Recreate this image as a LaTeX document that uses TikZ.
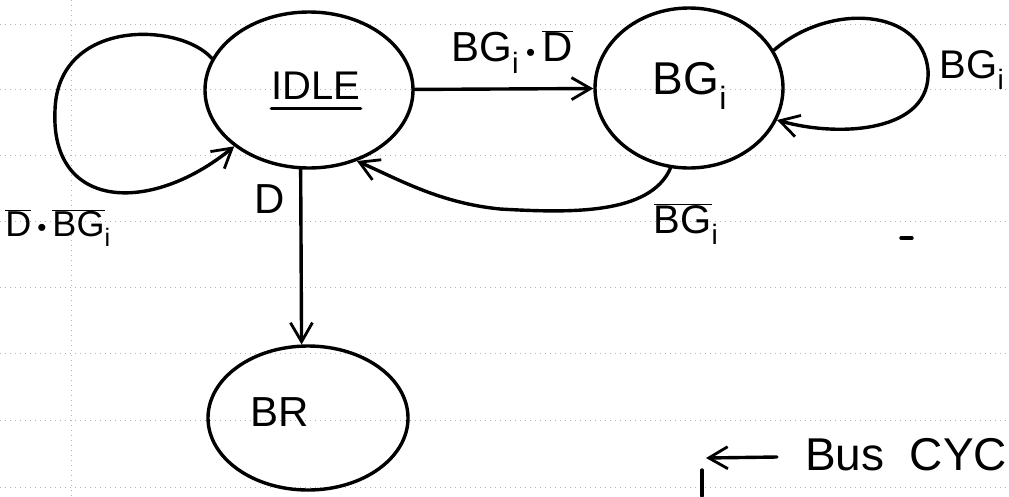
\documentclass[tikz,border=0pt]{standalone}
\usepackage{fontspec}
\setmainfont{Liberation Sans}
\usetikzlibrary{shapes.geometric,arrows.meta}

\tikzset{
  ruling/.style={gray!60, line width=0.6pt, dash pattern=on 1pt off 4pt},
  pen/.style={black, line width=3.4pt, line cap=round, line join=round},
  statebox/.style={ellipse, draw, pen, inner sep=0pt},
  tip/.style={-{Straight Barb[length=19pt,width=22pt,line width=2.8pt]}},
  hand/.style={inner sep=0pt, text=black},
}
\newcommand{\ovl}[1]{$\overline{\mbox{#1}}$}
\newcommand{\dotmark}{{\fontsize{26}{26}\selectfont\textbullet}}

\begin{document}
\begin{tikzpicture}[x=1pt,y=-1pt]
  \fill[white] (0,0) rectangle (1009,496);
  \useasboundingbox (0,0) rectangle (1009,496);

  % ruled paper
  \foreach \yy in {24,89,155,221,287,353,420,487}
    \draw[ruling] (0,\yy) -- (1009,\yy);
  \draw[ruling] (71,0) -- (71,496);

  % states
  \node[statebox, minimum width=208pt, minimum height=156pt] (idle) at (309,90) {};
  \node[statebox, minimum width=188pt, minimum height=160pt] (bg) at (689,88) {};
  \node[statebox, minimum width=200pt, minimum height=144pt] (br) at (308,418) {};

  \node[hand, font=\fontsize{40}{42}\selectfont] (idletext) at (316,86) {IDLE};
  \draw[pen] ([yshift=-9pt]idletext.base west) -- ([yshift=-9pt]idletext.base east);
  \node[hand, font=\fontsize{46}{48}\selectfont] (bgtext) at (690,86) {BG\textsubscript{i}};
  \node[hand, font=\fontsize{42}{44}\selectfont] (brtext) at (280,412) {BR};

  % self loop on IDLE
  \draw[pen, tip] (idle.162) .. controls (180,22) and (58,18) .. (55,110)
                  .. controls (50,210) and (150,215) .. (idle.217);
  \node[hand, font=\fontsize{36}{38}\selectfont] (lblidle) at (58,228)
    {\ovl{D}\,\dotmark\,\ovl{BG}\textsubscript{i}};

  % IDLE -> BG
  \draw[pen, tip] (idle) -- (bg);
  \node[hand, font=\fontsize{42}{44}\selectfont] (lblgo) at (512,52)
    {BG\textsubscript{i}\,\dotmark\,\ovl{D}};

  % self loop on BG
  \draw[pen, tip] (bg.24) .. controls (830,2) and (922,8) .. (928,70)
                  .. controls (932,132) and (840,138) .. (bg.-20);
  \node[hand, font=\fontsize{40}{42}\selectfont] (lblstay) at (972,70) {BG\textsubscript{i}};

  % BG -> IDLE
  \draw[pen, tip] (bg.257) .. controls (650,215) and (570,213) .. (500,209)
                  .. controls (440,203) and (400,180) .. (idle.304);
  \node[hand, font=\fontsize{40}{42}\selectfont] (lblback) at (686,224) {\ovl{BG}\textsubscript{i}};

  % IDLE -> BR
  \draw[pen, tip] (idle.264) -- (br.95);
  \node[hand, font=\fontsize{42}{44}\selectfont] (lbld) at (270,199) {D};

  % margin note
  \coordinate (notefrom) at (777,457);
  \coordinate (noteto) at (706,458);
  \draw[pen, tip] (notefrom) -- (noteto);
  \node[hand, anchor=west, font=\fontsize{46}{48}\selectfont] (note) at (805,455) {Bus\ \ CYC};

  % stray pen marks
  \coordinate (tickA) at (702,470);
  \coordinate (tickB) at (702,496);
  \draw[pen] (tickA) -- (tickB);
  \coordinate (dashA) at (901,238);
  \coordinate (dashB) at (912,238);
  \draw[pen] (dashA) -- (dashB);
\end{tikzpicture}
\end{document}
